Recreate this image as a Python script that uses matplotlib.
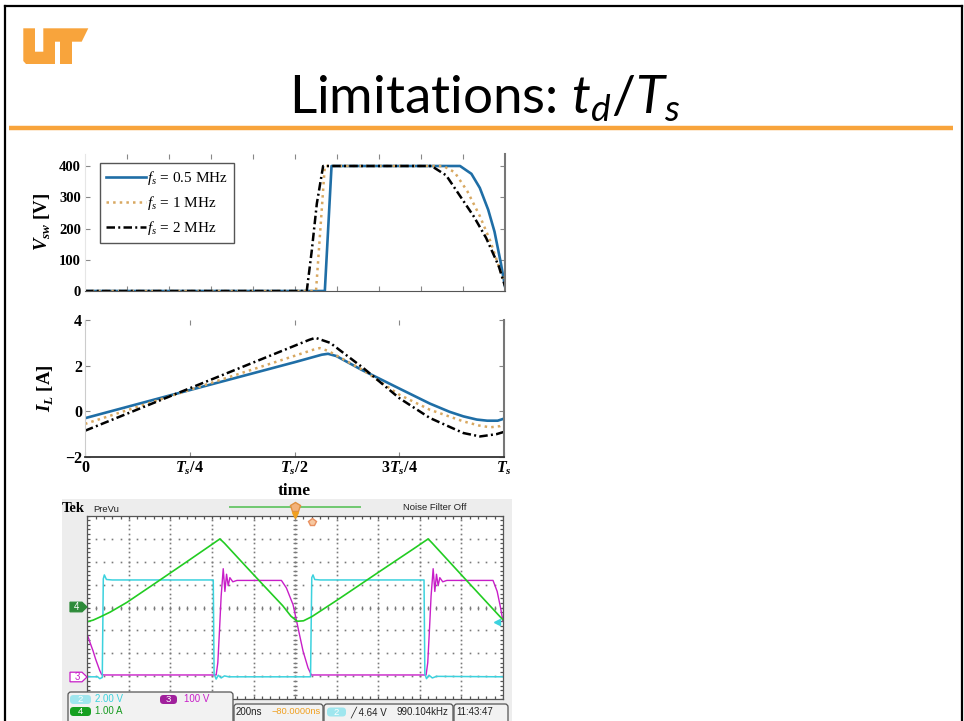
import numpy as np
import matplotlib
matplotlib.use('Agg')
import matplotlib.pyplot as plt
from matplotlib.patches import Polygon, FancyBboxPatch

plt.rcParams['mathtext.fontset'] = 'custom'
plt.rcParams['mathtext.rm'] = 'Lato'
plt.rcParams['mathtext.it'] = 'Lato:italic'
plt.rcParams['mathtext.sf'] = 'Liberation Serif:italic'
plt.rcParams['mathtext.bfit'] = 'Liberation Serif:italic:bold'

# ---------------- data ----------------
# V_sw (top plot), time as fraction of Ts
t_v_05 = [0, 0.571, 0.587, 0.893, 0.92, 0.94, 0.96, 0.975, 0.99, 1.0]
v_05 = [0, 0, 400, 400, 375, 330, 260, 190, 90, 15]
t_v_1 = [0, 0.550, 0.571, 0.853, 0.88, 0.91, 0.94, 0.965, 0.985, 1.0]
v_1 = [0, 0, 400, 400, 380, 320, 240, 160, 80, 20]
t_v_2 = [0, 0.528, 0.540, 0.552, 0.567, 0.825, 0.86, 0.895, 0.925, 0.955, 0.985, 1.0]
v_2 = [0, 0, 130, 280, 400, 400, 370, 300, 240, 170, 80, 15]

# I_L (middle plot)
t_i_05 = [0, 0.25, 0.50, 0.565, 0.58, 0.60, 0.66, 0.75, 0.823, 0.87, 0.903, 0.935, 0.96, 0.985, 1.0]
i_05 = [-0.3, 0.93, 2.15, 2.48, 2.52, 2.42, 1.82, 1.0, 0.34, -0.02, -0.22, -0.36, -0.41, -0.41, -0.32]
t_i_1 = [0, 0.25, 0.50, 0.545, 0.56, 0.58, 0.664, 0.75, 0.823, 0.903, 0.94, 0.967, 0.99, 1.0]
i_1 = [-0.55, 0.94, 2.43, 2.7, 2.77, 2.65, 1.8, 0.73, 0.07, -0.44, -0.62, -0.7, -0.65, -0.55]
t_i_2 = [0, 0.25, 0.50, 0.535, 0.55, 0.585, 0.664, 0.75, 0.823, 0.903, 0.943, 0.982, 1.0]
i_2 = [-0.85, 1.01, 2.87, 3.13, 3.22, 3.0, 1.9, 0.58, -0.29, -0.95, -1.1, -1.0, -0.9]

legend_labels = [r'$\mathsf{f}_\mathsf{s}$ = 0.5 MHz', r'$\mathsf{f}_\mathsf{s}$ = 1 MHz', r'$\mathsf{f}_\mathsf{s}$ = 2 MHz']
v_ticks = [0, 100, 200, 300, 400]
i_ticks = [-2, 0, 2, 4]
i_tick_labels = ['\u22122', '0', '2', '4']
t_ticks = [0, 0.25, 0.5, 0.75, 1.0]
t_tick_labels = ['0', r'$\mathbfit{T}_\mathbfit{s}$/4', r'$\mathbfit{T}_\mathbfit{s}$/2',
                 r'3$\mathbfit{T}_\mathbfit{s}$/4', r'$\mathbfit{T}_\mathbfit{s}$']

# Oscilloscope traces (x in divisions 0..10, y in divisions 0..8)
cyan_x = [0, 0.25, 0.30, 0.36, 0.385, 0.41, 0.46, 0.6, 3.03, 3.05, 3.1, 3.15, 3.22, 3.3, 3.4,
          5.37, 5.40, 5.43, 5.47, 5.6, 8.10, 8.12, 8.16, 8.22, 8.3, 8.4, 10]
cyan_y = [0.98, 0.98, 0.9, 0.95, 5.25, 5.42, 5.22, 5.2, 5.2, 1.1, 0.88, 1.05, 0.93, 1.02, 0.98,
          0.98, 5.3, 5.42, 5.22, 5.2, 5.2, 1.1, 0.9, 1.05, 0.93, 1.0, 0.98]
mag_x = [0, 0.07, 0.14, 0.2, 0.26, 0.3, 0.345, 0.4, 3.10, 3.14, 3.18, 3.22, 3.27, 3.31, 3.35, 3.39,
         3.43, 3.5, 3.6, 4.67, 4.79, 4.95, 5.07, 5.19, 5.31, 5.39, 5.45, 8.15, 8.19, 8.23, 8.27,
         8.32, 8.36, 8.40, 8.44, 8.48, 8.55, 8.65, 9.76, 9.86, 9.94, 10]
mag_y = [2.82, 2.45, 2.1, 1.75, 1.45, 1.25, 1.08, 1.06, 1.06, 1.6, 3.0, 4.5, 5.69, 4.7, 5.45, 4.95,
         5.3, 5.12, 5.18, 5.18, 4.85, 4.12, 3.11, 2.1, 1.37, 1.06, 1.06, 1.06, 1.6, 3.0, 4.5,
         5.69, 4.7, 5.45, 4.95, 5.3, 5.12, 5.18, 5.18, 4.7, 4.0, 3.4]
green_x = [0, 0.14, 0.3, 0.55, 0.95, 1.75, 2.39, 3.0, 3.19, 3.3, 3.8, 4.3, 4.7, 4.9, 5.05, 5.2,
           5.4, 6.0, 7.0, 7.9, 8.2, 8.3, 9.0, 9.5, 10]
green_y = [3.38, 3.45, 3.58, 3.8, 4.22, 5.2, 5.99, 6.75, 6.99, 6.8, 5.82, 4.85, 4.08, 3.62, 3.40,
           3.42, 3.60, 4.31, 5.53, 6.62, 6.99, 6.8, 5.42, 4.44, 3.46]

# ---------------- figure ----------------
W, H = 964, 721
fig = plt.figure(figsize=(W / 100, H / 100), dpi=100)


def box(l, t, r, b):
    return [l / W, 1 - b / H, (r - l) / W, (b - t) / H]


def pixel_axes(z):
    a = fig.add_axes([0, 0, 1, 1])
    a.set_xlim(0, W)
    a.set_ylim(H, 0)
    a.axis('off')
    a.patch.set_alpha(0)
    a.set_zorder(z)
    return a


bg = pixel_axes(0)

ORANGE = '#F8A43C'
# slide frame
bg.plot([5, 5], [5.5, H + 5], color='black', lw=1.6)
bg.plot([5, 961.5], [5.5, 5.5], color='black', lw=1.6)
bg.plot([961.5, 961.5], [5.5, H + 5], color='black', lw=1.6)
# header line
bg.plot([9, 953], [127.7, 127.7], color=ORANGE, lw=3.2, solid_capstyle='butt')
# UT logo
logo = [
    [(23.3, 28.3), (35, 28.3), (35, 51.7), (43.3, 51.7), (43.3, 28.3), (88.3, 28.3), (81.7, 41.7),
     (72, 41.7), (72, 64), (60, 64), (60, 41.7), (55, 41.7), (55, 64), (26, 64), (23.3, 61)],
]
for poly in logo:
    bg.add_patch(Polygon(poly, closed=True, fc=ORANGE, ec='none'))
# title
bg.text(485, 114, r'Limitations: $t_d$/$T_s$', fontsize=38.2, family='Lato',
        ha='center', va='baseline', color='black')

# ---------------- top plot: V_sw ----------------
BLUE = '#1F6EA6'
TAN = '#D8A861'
DASHDOT = (0, (3.4, 1.3, 0.8, 1.3))

ax1 = fig.add_axes(box(85, 153.5, 505, 291))
ax1.set_zorder(2)
l1, = ax1.plot(t_v_05, v_05, color=BLUE, lw=1.9, label=legend_labels[0])
l2, = ax1.plot(t_v_1, v_1, color=TAN, lw=1.8, ls=':', label=legend_labels[1])
l3, = ax1.plot(t_v_2, v_2, color='black', lw=1.8, ls=DASHDOT, label=legend_labels[2])
ax1.set_xlim(0, 1)
ax1.set_ylim(0, 440)
ax1.set_yticks(v_ticks)
ax1.set_yticklabels([str(v) for v in v_ticks], family='Liberation Serif', fontweight='bold', fontsize=10.5)
ax1.set_xticks(np.arange(0.1, 0.95, 0.1))
ax1.set_xticklabels([])
ax1.tick_params(direction='in', top=True, right=True, length=3.5, color='#888888', pad=3)
ax1.spines['top'].set_visible(False)
ax1.spines['left'].set_color('#E6E6E6')
ax1.spines['right'].set_color('#777777')
ax1.spines['right'].set_linewidth(1.5)
ax1.spines['bottom'].set_color('#555555')
ax1.set_ylabel(r'$\mathbfit{V}_{\mathbfit{sw}}$ [V]', family='Liberation Serif', fontweight='bold',
               fontsize=13.5, labelpad=5)
leg = ax1.legend(handles=[l1, l2, l3], loc='upper left', bbox_to_anchor=(0.036, 0.93),
                 borderaxespad=0, fancybox=False, edgecolor='#555555', framealpha=1,
                 prop={'family': 'Liberation Serif', 'size': 11}, handlelength=2.6,
                 labelspacing=0.45, handletextpad=0.1, borderpad=0.4)
leg.get_frame().set_linewidth(1.0)

# ---------------- middle plot: I_L ----------------
ax2 = fig.add_axes(box(85, 320, 504, 457))
ax2.set_zorder(2)
ax2.plot(t_i_05, i_05, color=BLUE, lw=1.9)
ax2.plot(t_i_1, i_1, color=TAN, lw=1.8, ls=':')
ax2.plot(t_i_2, i_2, color='black', lw=1.8, ls=DASHDOT)
ax2.set_xlim(0, 1)
ax2.set_ylim(-2, 4)
ax2.set_yticks(i_ticks)
ax2.set_yticklabels(i_tick_labels, family='Liberation Serif', fontweight='bold', fontsize=11.5)
ax2.set_xticks(t_ticks)
ax2.set_xticklabels(t_tick_labels, family='Liberation Serif', fontweight='bold', fontsize=11.5)
ax2.tick_params(direction='in', top=True, right=True, length=3.5, color='#888888', pad=2)
ax2.spines['top'].set_visible(False)
ax2.spines['left'].set_color('#CCCCCC')
ax2.spines['right'].set_color('#777777')
ax2.spines['right'].set_linewidth(1.5)
ax2.spines['bottom'].set_color('#333333')
ax2.spines['bottom'].set_linewidth(1.3)
ax2.set_ylabel(r'$\mathbfit{I}_{\mathbfit{L}}$ [A]', family='Liberation Serif', fontweight='bold',
               fontsize=13.5, labelpad=7)
ax2.set_xlabel('time', family='Liberation Serif', fontweight='bold', fontsize=12.5, labelpad=4)

# ---------------- oscilloscope ----------------
PANEL = '#EDEDED'
bg.add_patch(FancyBboxPatch((62, 499), 450, 230, boxstyle='square,pad=0', fc=PANEL, ec='none'))
sc = fig.add_axes(box(87.3, 515.7, 503, 699.3))
sc.set_zorder(2)
sc.set_xlim(0, 10)
sc.set_ylim(0, 8)
sc.set_xticks([])
sc.set_yticks([])
for s in sc.spines.values():
    s.set_color('#555555')
    s.set_linewidth(0.9)
dotc = '#7A7A7A'
xs_fine = np.arange(0, 10.001, 0.2)
ys_fine = np.arange(0, 8.001, 0.2)
for yi in range(1, 8):
    sc.plot(xs_fine, np.full_like(xs_fine, yi), ls='none', marker='s', ms=1.2, color=dotc, mew=0)
for xi in range(1, 10):
    sc.plot(np.full_like(ys_fine, xi), ys_fine, ls='none', marker='s', ms=1.2, color=dotc, mew=0)
sc.plot(xs_fine, np.full_like(xs_fine, 4), ls='none', marker='|', ms=3.2, color=dotc, mew=0.9)
sc.plot(np.full_like(ys_fine, 5), ys_fine, ls='none', marker='_', ms=3.2, color=dotc, mew=0.9)
sc.plot(xs_fine, np.full_like(xs_fine, 8), ls='none', marker='|', ms=5, color='#555555', mew=0.9)
sc.plot(xs_fine, np.full_like(xs_fine, 0), ls='none', marker='|', ms=5, color='#555555', mew=0.9)
sc.plot(np.full_like(ys_fine, 0), ys_fine, ls='none', marker='_', ms=5, color='#555555', mew=0.9)
sc.plot(np.full_like(ys_fine, 10), ys_fine, ls='none', marker='_', ms=5, color='#555555', mew=0.9)

CYAN = '#3CD2DE'
MAG = '#C81EC8'
GREEN = '#22CC22'
sc.plot(mag_x, mag_y, color=MAG, lw=1.0)
sc.plot(cyan_x, cyan_y, color=CYAN, lw=1.1)
sc.plot(green_x, green_y, color=GREEN, lw=1.2)
sc.plot([9.85], [3.35], marker='<', ms=5, color=CYAN, clip_on=False)

fg = pixel_axes(5)

# scope header
fg.text(62, 508, 'Tek', family='Liberation Serif', fontweight='bold', fontsize=10.5, va='center', ha='left')
fg.text(93, 509, 'PreVu', family='Liberation Sans', fontsize=6.8, va='center', ha='left', color='#222222')
fg.text(403, 508, 'Noise Filter Off', family='Liberation Sans', fontsize=6.8, va='center', ha='left',
        color='#222222')
fg.plot([230, 360], [507, 507], color='#70C870', lw=1.4)
fg.plot([295], [507], marker='p', ms=7, color='#F3B27A', mec='#E09040')
fg.plot([295], [515], marker='v', ms=5, color='#F0A020')
fg.plot([312], [521.5], marker='p', ms=6, color='#F7C8A0', mec='#E89060')


# channel marks on the left of the grid
def side_tag(yc, fc, ec, tc, label):
    pts = [(70, yc - 4.8), (82, yc - 4.8), (87, yc), (82, yc + 4.8), (70, yc + 4.8)]
    fg.add_patch(Polygon(pts, closed=True, fc=fc, ec=ec, lw=0.9))
    fg.text(77, yc + 0.3, label, color=tc, fontsize=7, family='Liberation Sans', ha='center', va='center')


side_tag(607, '#2E8B3A', '#2E8B3A', 'white', '4')
side_tag(677, 'white', MAG, MAG, '3')

# readout boxes
for (l, t, r, b) in [(68, 692, 233, 730), (234, 704, 323, 730), (324, 704, 453, 730), (454, 704, 508, 730)]:
    fg.add_patch(FancyBboxPatch((l, t), r - l, b - t, boxstyle='round,pad=0,rounding_size=3',
                                fc='#F2F2F2', ec='#555555', lw=0.9))


def chan_tag(xl, xr, yc, fc, label):
    fg.add_patch(FancyBboxPatch((xl, yc - 4.5), xr - xl, 9, boxstyle='round,pad=0,rounding_size=3.5',
                                fc=fc, ec='none'))
    fg.text((xl + xr) / 2, yc + 0.3, label, color='white', ha='center', va='center', fontsize=6.8,
            family='Liberation Sans')


tf = dict(family='Liberation Sans', fontsize=7, va='center', ha='left')
chan_tag(70, 91, 699.5, '#9FE6EE', '2')
fg.text(95, 699.5, '2.00 V', color=CYAN, **tf)
chan_tag(160, 177, 699.5, '#A0209C', '3')
fg.text(184, 699.5, '100 V', color=MAG, **tf)
chan_tag(70, 91, 711.5, '#15A020', '4')
fg.text(95, 711.5, '1.00 A', color='#159A1E', **tf)
fg.text(236, 712, '200ns', color='#222222', **tf)
fg.text(321, 712, '\u221280.0000ns', color='#F0A020', family='Liberation Sans', fontsize=6.7,
        va='center', ha='right')
chan_tag(327, 346, 712, '#9FE6EE', '2')
fg.text(350, 712, '\u2571 4.64 V', color='#222222', family=['Liberation Sans', 'DejaVu Sans'],
        fontsize=7, va='center', ha='left')
fg.text(448, 712, '990.104kHz', color='#222222', family='Liberation Sans', fontsize=7, va='center',
        ha='right')
fg.text(456, 712, '11:43:47', color='#222222', **tf)

fig.savefig('out.png', dpi=100)
